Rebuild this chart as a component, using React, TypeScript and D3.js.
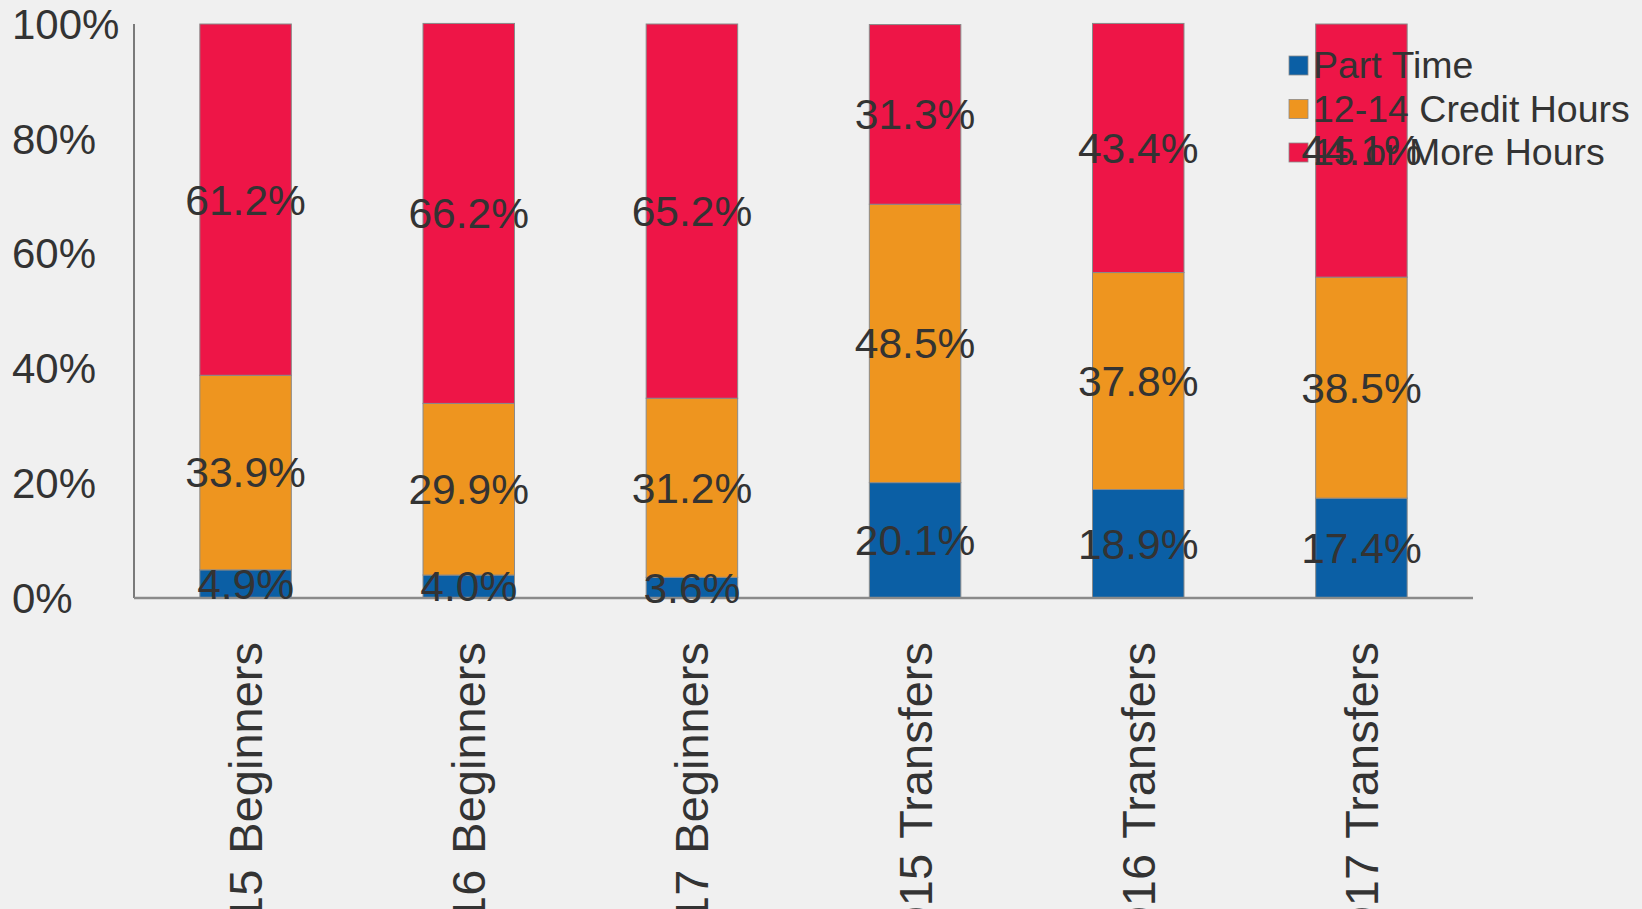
import React, { useEffect } from "react";
import * as d3 from "d3";

const categories = [
  "2015 Beginners",
  "2016 Beginners",
  "2017 Beginners",
  "2015 Transfers",
  "2016 Transfers",
  "2017 Transfers",
];
const seriesNames = ["Part Time", "12-14 Credit Hours", "15 or More Hours"];
const partTime = [4.9, 4.0, 3.6, 20.1, 18.9, 17.4];
const credit1214 = [33.9, 29.9, 31.2, 48.5, 37.8, 38.5];
const fifteenPlus = [61.2, 66.2, 65.2, 31.3, 43.4, 44.1];
const yTicks = [0, 20, 40, 60, 80, 100];
const colors = ["#0b5fa5", "#ee951f", "#ee1547"];

const W = 1642;
const H = 909;
const FONT = "'Liberation Sans', Arial, sans-serif";

export default function App() {
  useEffect(() => {
    document.body.style.margin = "0";
    document.body.style.background = "#f0f0f0";
  }, []);

  const x = d3
    .scaleBand<string>()
    .domain(categories)
    .range([134, 1473])
    .paddingInner(0.59)
    .paddingOuter(0.295);
  const y = d3.scaleLinear().domain([0, 100]).range([598, 24]);

  const rows = categories.map((c, i) => ({
    cat: c,
    [seriesNames[0]]: partTime[i],
    [seriesNames[1]]: credit1214[i],
    [seriesNames[2]]: fifteenPlus[i],
  }));
  const stacked = d3.stack<any>().keys(seriesNames)(rows);

  return (
    <svg width={W} height={H} style={{ position: "absolute", left: 0, top: 0, display: "block" }}>
      <rect x={0} y={0} width={W} height={H} fill="#f0f0f0" />
      {/* bars */}
      {stacked.map((s, si) => (
        <g key={s.key}>
          {s.map((d, i) => (
            <rect
              key={i}
              x={x(categories[i])}
              y={y(d[1])}
              width={x.bandwidth()}
              height={y(d[0]) - y(d[1])}
              fill={colors[si]}
              stroke="#8a8a8a"
              strokeWidth={1}
            />
          ))}
        </g>
      ))}
      {/* axes */}
      <line x1={134} x2={134} y1={y(100)} y2={y(0)} stroke="#7a7a7a" strokeWidth={2} />
      <line x1={134} x2={1473} y1={y(0)} y2={y(0)} stroke="#8a8a8a" strokeWidth={2.5} />
      {yTicks.map((t) => (
        <text
          key={t}
          x={12}
          y={y(t)}
          dy="0.35em"
          fontFamily={FONT}
          fontSize={42}
          fill="#333"
        >
          {t}%
        </text>
      ))}
      {categories.map((c) => (
        <text
          key={c}
          transform={`translate(${(x(c) as number) + x.bandwidth() / 2},642) rotate(-90)`}
          textAnchor="end"
          dy="0.35em"
          fontFamily={FONT}
          fontSize={47}
          wordSpacing={3}
          fill="#333"
        >
          {c}
        </text>
      ))}
      {/* legend */}
      {seriesNames.map((n, i) => (
        <g key={n}>
          <rect x={1289} y={56 + i * 43.5} width={19} height={19} fill={colors[i]} stroke="#8a8a8a" strokeWidth={0.8} />
          <text x={1313} y={78 + i * 43.5} fontFamily={FONT} fontSize={37.5} fill="#333">
            {n}
          </text>
        </g>
      ))}
      {/* data labels */}
      {stacked.map((s) =>
        s.map((d, i) => (
          <text
            key={s.key + i}
            x={(x(categories[i]) as number) + x.bandwidth() / 2}
            y={y((d[0] + d[1]) / 2)}
            dy="0.35em"
            textAnchor="middle"
            fontFamily={FONT}
            fontSize={42.5}
            fill="#333"
          >
            {(d[1] - d[0]).toFixed(1)}%
          </text>
        ))
      )}
    </svg>
  );
}
